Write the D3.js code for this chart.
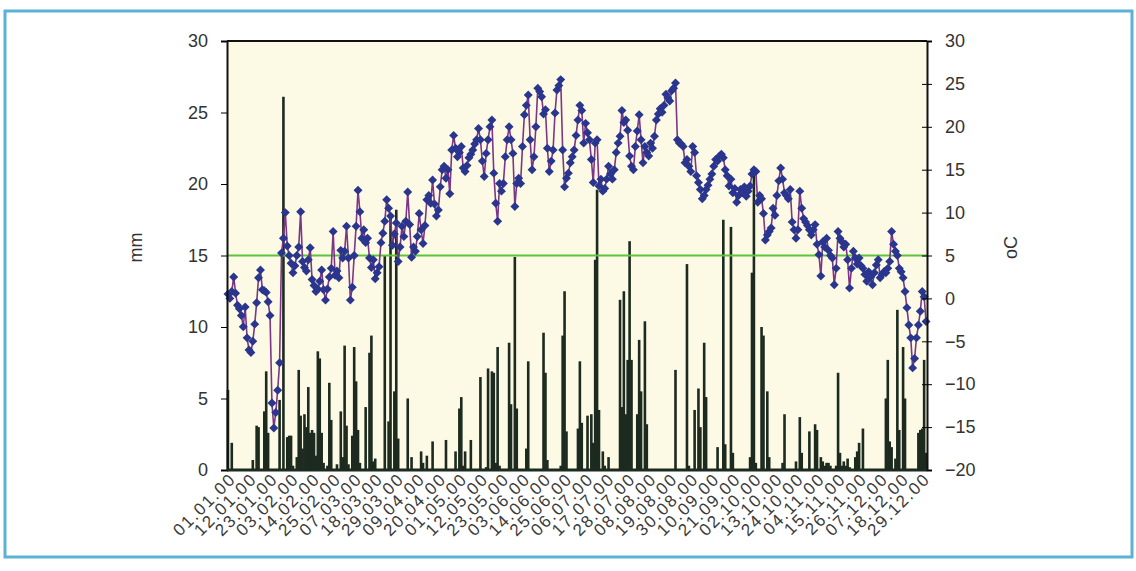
<!DOCTYPE html>
<html>
<head>
<meta charset="utf-8">
<script src="https://cdn.jsdelivr.net/npm/d3@7"></script>
<style>
  body { margin: 0; background: #fff; }
  svg { display: block; font-family: "Liberation Sans", Arial, sans-serif; }
</style>
</head>
<body>
<div id="chart"></div>
<script>
// daily precipitation (mm), 2000, by month
const precipJan = [5.6,0,1.9,0,0,0,0,0,0,0, 0,0,0,0.7,0,3.1,3.0,0,0,4.1, 6.9,2.6,0,0,0,0,0,4.9,0,26.1, 0];
const precipFeb = [2.3,2.4,2.4,0.3,0,0.9,7.0,3.8,1.5,3.9, 3.0,5.8,2.6,2.8,2.6,1.0,8.3,7.8,2.6,0.5, 0,0.3,6.1,3.5,0,0,0.4,0,4.1];
const precipMar = [0.9,8.7,3.1,0.4,0,2.4,8.6,6.2,2.8,0.5, 0,0,4.4,0,8.2,9.4,0.6,0.8,0,0, 0,0,15.0,0,3.4,17.6,0,5.5,18.2,2.2, 0];
const precipApr = [0,0,0,5.0,0,0.9,0,0,0,0, 1.3,0.5,0,1.0,0,0,2.0,0,0,0, 0,0,0,2.1,0,0,0,0,1.3,0];
const precipMay = [4.3,5.1,0.3,1.3,0,0,2.1,0,0,0, 0,6.5,0,0,0.2,7.1,0,6.9,6.8,0.5, 8.6,0.3,0,0,0,0,8.9,4.6,0,14.9, 4.3];
const precipJun = [0,0,0,0,1.5,7.6,0,0,0,0, 0,0,0,9.6,6.8,0.7,0,0,0,0, 0,0,0.3,9.4,12.5,2.7,0,0,0,0];
const precipJul = [0,2.9,7.6,3.3,0,0,3.8,0,3.9,1.9, 14.7,19.6,4.2,0,1.3,0.3,0,0.9,0,0, 0,0,0,11.9,4.4,12.5,3.9,7.7,16.0,7.7, 0];
const precipAug = [0,3.9,9.1,5.5,0,10.4,3.2,0,0,0, 0,0,0,0,0,0,0,0,0,0, 0,7.0,0,0,0,0,0,14.4,0.3,0, 0];
const precipSep = [4.2,0,5.7,3.0,0,8.9,5.1,0,0,0, 0,0,1.6,0,0,17.5,1.8,0,0,17.0, 1.2,0,0,0,0,0,0,0,0,0.9];
const precipOct = [13.8,21.0,0.5,0,0,10.0,9.4,0,5.5,0.9, 0,0,0,0,0,0,0.5,3.9,0,0, 0,0,0,0.6,0,3.7,1.2,0,0,0, 2.7];
const precipNov = [0,0,3.2,2.8,0,0.9,0.6,0.3,0.5,0.5, 0.3,0,0,0.3,6.8,1.2,0.3,0.6,0.3,0.8, 0.2,0,0,0.9,1.3,1.9,0,2.9,0,0];
const precipDec = [0,0,0,0,0,0,0,0,0,5.0, 7.7,2.0,1.6,0,0.8,11.2,2.8,0,8.6,5.0, 0,0,0,0,0,0,2.6,2.8,2.9,7.7, 1.2];

// daily mean air temperature (oC), 2000, by month
const tempJan = [0.5,0.0,0.8,2.5,0.6,-0.8,-1.2,-2.0,-3.3,-1.0, -4.6,-6.0,-6.3,-5.0,-3.0,-0.5,2.4,3.3,1.0,0.9, 0.7,-0.4,-2.0,-12.2,-15.1,-13.3,-10.7,-7.5,5.3,7.0, 10.0];
const tempFeb = [6.1,5.0,4.1,3.0,3.8,5.0,6.0,10.1,4.3,3.6, 3.2,4.5,5.9,2.2,1.5,0.8,1.1,2.0,3.3,1.0, -0.2,1.1,2.5,3.5,7.8,2.7,3.2,2.4,5.6];
const tempMar = [4.7,5.5,8.4,4.7,-0.2,1.3,5.0,8.4,12.6,10.1, 7.0,8.0,6.5,7.0,4.7,3.6,4.5,2.3,3.0,3.7, 6.5,7.6,9.0,11.5,10.5,9.6,6.2,7.5,8.8,4.3, 6.0];
const tempApr = [8.4,7.2,9.0,12.4,8.6,4.8,6.0,5.5,7.2,9.9, 8.0,6.4,8.5,11.5,12.0,11.1,13.8,11.0,9.6,10.3, 13.0,15.0,15.4,14.0,15.0,12.2,17.3,19.0,17.5,16.5];
const tempMay = [17.0,17.7,15.2,14.8,15.5,16.4,16.8,17.3,18.0,18.5, 19.8,18.5,16.0,14.2,16.9,18.5,20.0,20.8,14.6,11.1, 9.0,13.4,12.5,13.4,16.5,18.5,20.0,18.5,16.9,10.7, 13.4];
const tempJun = [14.0,13.4,17.7,21.4,22.5,23.7,18.5,15.0,16.5,20.0, 24.5,24.1,23.5,21.5,22.0,17.5,14.8,16.0,17.3,21.6, 24.3,24.8,25.5,17.3,13.0,14.0,14.6,15.8,16.5,17.3];
const tempJul = [19.0,20.8,22.5,21.9,18.1,20.4,19.3,18.5,16.2,13.5, 18.1,18.5,13.1,13.9,12.5,12.8,13.9,15.4,14.5,13.9, 15.0,17.0,18.1,18.9,21.9,20.5,20.8,19.6,16.6,15.4, 15.0];
const tempAug = [17.7,19.5,21.4,18.5,15.8,17.7,17.0,16.6,18.1,17.5, 18.9,20.8,21.5,22.1,21.7,22.5,23.8,23.4,23.0,24.2, 24.5,25.1,18.5,18.1,18.0,17.7,15.8,16.2,15.4,14.8, 17.7];
const tempSep = [17.0,14.3,13.5,12.7,11.6,12.0,12.7,13.2,13.9,14.5, 15.4,16.2,16.0,16.6,16.8,16.4,15.0,14.3,13.1,13.9, 12.3,12.8,11.2,12.0,12.7,12.3,13.0,11.9,12.5,13.1];
const tempOct = [14.5,15.0,14.8,11.2,12.0,11.6,9.9,6.8,7.4,7.8, 8.2,10.5,9.7,12.0,13.7,15.2,13.9,12.3,12.0,11.6, 12.7,8.9,8.0,7.0,8.0,12.5,10.5,9.3,8.9,8.5, 8.0];
const tempNov = [7.4,8.0,8.6,6.3,5.1,2.6,6.6,6.0,7.0,5.6, 5.0,4.7,1.6,3.5,7.8,7.0,6.6,6.0,6.3,4.5, 1.2,3.5,5.5,4.7,4.0,4.7,3.8,3.5,2.8,2.0];
const tempDec = [3.1,2.5,1.6,3.0,3.9,4.5,2.4,2.8,3.1,3.0, 3.5,4.3,7.8,6.3,5.5,5.0,3.5,3.1,2.4,0.8, -1.1,-3.1,-4.6,-8.1,-7.0,-4.6,-3.1,-1.5,0.8,0.2, -2.7];

const tickLabels = ["01.01.00","12.01.00","23.01.00","03.02.00","14.02.00","25.02.00","07.03.00",
  "18.03.00","29.03.00","09.04.00","20.04.00","01.05.00","12.05.00","23.05.00","03.06.00","14.06.00",
  "25.06.00","06.07.00","17.07.00","28.07.00","08.08.00","19.08.00","30.08.00","10.09.00","21.09.00",
  "02.10.00","13.10.00","24.10.00","04.11.00","15.11.00","26.11.00","07.12.00","18.12.00","29.12.00"];

const mmTicks = [0, 5, 10, 15, 20, 25, 30];
const tempTicks = [-20, -15, -10, -5, 0, 5, 10, 15, 20, 25, 30];
const thresholdTemp = 5;

const precip = [].concat(precipJan, precipFeb, precipMar, precipApr, precipMay, precipJun,
  precipJul, precipAug, precipSep, precipOct, precipNov, precipDec);
const temp = [].concat(tempJan, tempFeb, tempMar, tempApr, tempMay, tempJun,
  tempJul, tempAug, tempSep, tempOct, tempNov, tempDec);

const fmt = d3.timeFormat("%d.%m.%y");
const categories = d3.timeDay.range(new Date(2000, 0, 1), new Date(2001, 0, 1)).map(fmt);
const data = categories.map((c, i) => ({ day: c, p: precip[i], t: temp[i] }));

const W = 1136, H = 571;
const margin = { top: 41, right: 209, bottom: 101, left: 227 };
const width = W - margin.left - margin.right;
const height = H - margin.top - margin.bottom;

const root = d3.select("#chart").append("svg")
  .attr("width", W)
  .attr("height", H);

// outer frame
root.append("rect")
  .attr("x", 5).attr("y", 11)
  .attr("width", 1127).attr("height", 546)
  .attr("fill", "none")
  .attr("stroke", "#5ab3d5")
  .attr("stroke-width", 3);

const svg = root.append("g")
  .attr("transform", `translate(${margin.left},${margin.top})`);

const x = d3.scaleBand().domain(categories).range([0, width]).padding(0);
const yP = d3.scaleLinear().domain([0, 30]).range([height, 0]);
const yT = d3.scaleLinear().domain([-20, 30]).range([height, 0]);
const cx = d => x(d.day) + x.bandwidth() / 2;

svg.append("rect")
  .attr("width", width).attr("height", height)
  .attr("fill", "#fcfae5");

// precipitation bars
svg.selectAll(".bar")
  .data(data.filter(d => d.p > 0))
  .enter().append("rect")
  .attr("class", "bar")
  .attr("x", d => cx(d) - 1.3)
  .attr("width", 2.6)
  .attr("y", d => yP(d.p))
  .attr("height", d => height - yP(d.p))
  .attr("fill", "#1c2a1f");

// 5 oC line
svg.append("line")
  .attr("x1", 0).attr("x2", width)
  .attr("y1", yT(thresholdTemp)).attr("y2", yT(thresholdTemp))
  .attr("stroke", "#5cc43c")
  .attr("stroke-width", 2);

// temperature line + markers
const line = d3.line().x(cx).y(d => yT(d.t));
svg.append("path")
  .datum(data)
  .attr("d", line)
  .attr("fill", "none")
  .attr("stroke", "#7d3585")
  .attr("stroke-width", 1.6);

const diamond = d3.symbol().type(d3.symbolSquare).size(40);
svg.selectAll(".pt")
  .data(data)
  .enter().append("path")
  .attr("class", "pt")
  .attr("d", diamond)
  .attr("transform", d => `translate(${cx(d)},${yT(d.t)}) rotate(45)`)
  .attr("fill", "#2a358e");

// frame of the plot area
svg.append("line")
  .attr("x1", 0).attr("x2", width).attr("y1", 0).attr("y2", 0)
  .attr("stroke", "#111").attr("stroke-width", 2);

// left axis
const leftAxis = svg.append("g")
  .call(d3.axisLeft(yP).tickValues(mmTicks).tickSize(6).tickPadding(13));
leftAxis.select(".domain").attr("stroke", "#111").attr("stroke-width", 2);
leftAxis.selectAll("text").attr("font-size", 18).attr("fill", "#333").attr("font-family", "Liberation Sans, Arial, sans-serif");

// right axis
const rightAxis = svg.append("g")
  .attr("transform", `translate(${width},0)`)
  .call(d3.axisRight(yT).tickValues(tempTicks).tickSize(5).tickPadding(13));
rightAxis.selectAll(".tick line").attr("x1", -5);
rightAxis.select(".domain").attr("stroke", "#111").attr("stroke-width", 2);
rightAxis.selectAll("text").attr("font-size", 18).attr("fill", "#333").attr("font-family", "Liberation Sans, Arial, sans-serif");

// bottom axis
svg.append("line")
  .attr("x1", 0).attr("x2", width).attr("y1", height).attr("y2", height)
  .attr("stroke", "#1c2a1f").attr("stroke-width", 3);

svg.selectAll(".xlab")
  .data(tickLabels)
  .enter().append("text")
  .attr("class", "xlab")
  .attr("transform", d => `translate(${x(d) + x.bandwidth() / 2 + 9},${height + 10}) rotate(-45)`)
  .attr("text-anchor", "end")
  .attr("font-size", 17)
  .attr("letter-spacing", 1.8)
  .attr("fill", "#3a3a3a")
  .text(d => d);

// axis titles
svg.append("text")
  .attr("transform", `translate(${-85},${height / 2 - 8}) rotate(-90)`)
  .attr("text-anchor", "middle")
  .attr("font-size", 18)
  .attr("fill", "#333")
  .text("mm");

svg.append("text")
  .attr("transform", `translate(${width + 90},${height / 2 - 8}) rotate(-90)`)
  .attr("text-anchor", "middle")
  .attr("font-size", 18)
  .attr("fill", "#333")
  .text("oC");
</script>
</body>
</html>
